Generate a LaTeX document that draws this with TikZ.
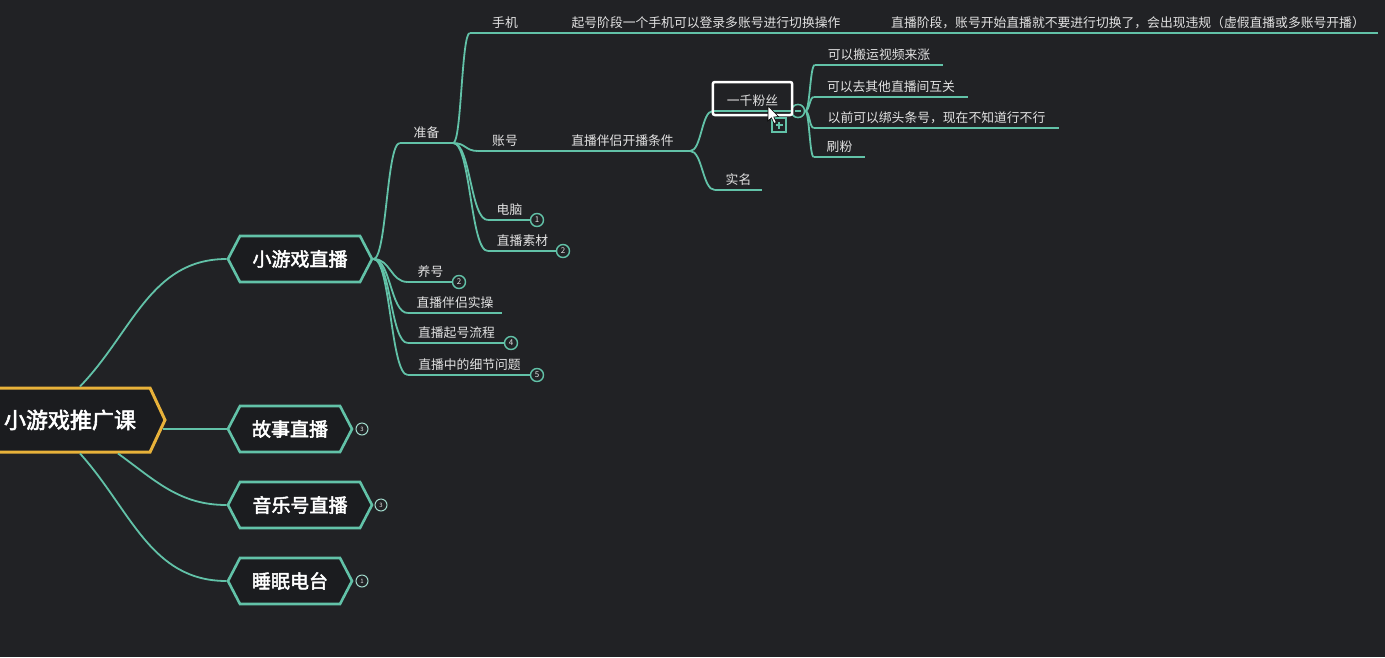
\documentclass[tikz,border=0pt]{standalone}
\usepackage{fontspec}
\setmainfont[AutoFakeBold=2.5]{Noto Sans CJK SC}
\usetikzlibrary{positioning,shapes.symbols,calc}
\definecolor{bgc}{HTML}{212225}
\definecolor{hexfill}{HTML}{1B1C1F}
\definecolor{branchc}{HTML}{62C2A8}
\definecolor{rootc}{HTML}{E8B23A}
\definecolor{txtc}{HTML}{E2E2E2}

\begin{document}
\begin{tikzpicture}[
  x=1pt,y=-1pt,
  every node/.style={text=txtc},
  branch/.style={draw=branchc,line width=1.8pt},
  mm/.style={to path={.. controls ($(\tikztostart)!0.5!(\tikztotarget |- \tikztostart)$)
     and ($(\tikztotarget)!0.5!(\tikztostart |- \tikztotarget)$) .. (\tikztotarget) \tikztonodes}},
  item/.style={anchor=south,inner xsep=0pt,inner ysep=4pt,
   font=\fontsize{12.8}{14}\selectfont,
   append after command={(\tikzlastnode.south west) edge[branch] (\tikzlastnode.south east)}},
  hexa/.style={shape=signal,signal to=east and west,signal pointer angle=125,
   draw=branchc,line width=2.6pt,fill=hexfill,text=white,inner xsep=0pt,
   minimum height=46pt,font=\fontsize{19}{22}\selectfont\bfseries},
  roothexa/.style={hexa,signal pointer angle=130,draw=rootc,line width=3pt,
   minimum height=64pt,font=\fontsize{22}{26}\selectfont\bfseries},
  num/.style={circle,draw=branchc,line width=1.4pt,fill=bgc,inner sep=0pt,
   minimum size=13pt,font=\fontsize{8}{8}\selectfont},
  hnum/.style={num,draw=branchc!60!white,line width=1pt,minimum size=12pt,
   font=\fontsize{6}{6}\selectfont},
  selbox/.style={draw=white,line width=2.5pt,rounded corners=2pt},
  fold/.style={num,minimum size=13pt},
  plusbox/.style={draw=branchc,line width=1.4pt,fill=bgc,inner sep=0pt,
   minimum size=14pt}
  ]
  \fill[bgc] (0,0) rectangle (1385,657);
  \useasboundingbox (0,0) rectangle (1385,657);

  % main topics
  \node[roothexa,minimum width=190] (root) at (70,420) {小游戏推广课};
  \node[hexa,minimum width=144] (xb) at (300,259) {小游戏直播};
  \node[hexa,minimum width=124] (gs) at (290,429) {故事直播};
  \node[hexa,minimum width=144] (yy) at (300,505) {音乐号直播};
  \node[hexa,minimum width=124] (sm) at (290,581) {睡眠电台};
  \node[hnum] (gsn) at (362,429) {3};
  \node[hnum] (yyn) at (381,505) {3};
  \node[hnum] (smn) at (362,581) {1};
  \draw[branch] ([xshift=10pt]root.north) to[out=46,in=180] (xb.west);
  \draw[branch] ([xshift=-4pt,yshift=-9pt]root.east) -- (gs.west);
  \draw[branch] ([xshift=48pt]root.south) to[out=-36,in=180] (yy.west);
  \draw[branch] ([xshift=10pt]root.south) to[out=-48,in=180] (sm.west);

  % 小游戏直播
  \node[item,minimum width=53] (zb) at (426.5,143) {准备};
  \node[item,minimum width=45] (yh) at (430.5,282) {养号};
  \node[num] (yhn) at (459,282) {2};
  \node[item,minimum width=94] (sl) at (455,313) {直播伴侣实操};
  \node[item,minimum width=97] (qlc) at (456.5,343) {直播起号流程};
  \node[num] (qlcn) at (511,343) {4};
  \node[item,minimum width=123] (xj) at (469.5,375) {直播中的细节问题};
  \node[num] (xjn) at (537,375) {5};
  \draw[branch] (xb.east) to[mm] (zb.south west);
  \draw[branch] (xb.east) to[mm] (yh.south west);
  \draw[branch] (xb.east) to[mm] (sl.south west);
  \draw[branch] (xb.east) to[mm] (qlc.south west);
  \draw[branch] (xb.east) to[mm] (xj.south west);

  % 准备
  \node[item,minimum width=70] (sj) at (505,33) {手机};
  \node[item,minimum width=316] (qh) at (706,33) {起号阶段一个手机可以登录多账号进行切换操作};
  \node[item,minimum width=500] (zbjd) at (1128,33) {直播阶段，账号开始直播就不要进行切换了，会出现违规（虚假直播或多账号开播）};
  \node[item,minimum width=54] (zh) at (505,151) {账号};
  \node[item,minimum width=135] (tj) at (622.5,151) {直播伴侣开播条件};
  \node[item,minimum width=43] (dn) at (509.5,220) {电脑};
  \node[num] (dnn) at (537,220) {1};
  \node[item,minimum width=69] (sc) at (522.5,251) {直播素材};
  \node[num] (scn) at (563,251) {2};
  \draw[branch] (zb.south east) to[mm] (sj.south west);
  \draw[branch] (zb.south east) to[mm] (zh.south west);
  \draw[branch] (zb.south east) to[mm] (dn.south west);
  \draw[branch] (zb.south east) to[mm] (sc.south west);
  \draw[branch] (sj.south east) -- (qh.south west);
  \draw[branch] (qh.south east) -- (zbjd.south west);
  \draw[branch] (zh.south east) -- (tj.south west);

  % 开播条件
  \node[item,minimum width=79] (yqfs) at (752.5,111) {一千粉丝};
  \node[item,minimum width=47] (smz) at (738.5,190) {实名};
  \draw[branch] (tj.south east) to[mm] (yqfs.south west);
  \draw[branch] (tj.south east) to[mm] (smz.south west);
  \node[item,minimum width=128] (by) at (879,65) {可以搬运视频来涨};
  \node[item,minimum width=154] (hg) at (891,97) {可以去其他直播间互关};
  \node[item,minimum width=245] (bt) at (936.5,128) {以前可以绑头条号，现在不知道行不行};
  \node[item,minimum width=51] (sf) at (839.5,157) {刷粉};
  \node[fold] (fd) at (798,111) {};
  \draw[branch] (yqfs.south east) -- (fd.west);
  \draw[branch] (fd.east) to[mm] (by.south west);
  \draw[branch] (fd.east) to[mm] (hg.south west);
  \draw[branch] (fd.east) to[mm] (bt.south west);
  \draw[branch] (fd.east) to[mm] (sf.south west);
  \node[fold] (fd) at (798,111) {};
  \draw[branch,line width=1.3pt] ([xshift=-3pt]fd.center) -- ([xshift=3pt]fd.center);
  \draw[selbox] ($(yqfs.south west)+(0,4)$) rectangle ($(yqfs.south east)+(0,-29)$);
  \node[plusbox] (plus) at (779,125) {};
  \draw[branch,line width=1.3pt] ([xshift=-3.5pt]plus.center) -- ([xshift=3.5pt]plus.center)
    ([yshift=-3.5pt]plus.center) -- ([yshift=3.5pt]plus.center);
  \filldraw[fill=white,draw=black,line width=0.6pt]
    (768,106) -- (768,121) -- (771.5,117.8) -- (774,123.5) -- (776.3,122.5)
    -- (773.8,117) -- (778.5,116.5) -- cycle;
\end{tikzpicture}
\end{document}
